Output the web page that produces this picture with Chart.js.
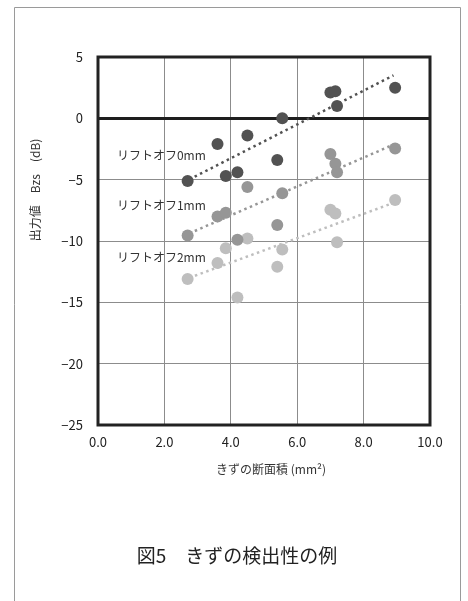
<!DOCTYPE html>
<html>
<head>
<meta charset="utf-8">
<script src="https://cdn.jsdelivr.net/npm/chart.js@4/dist/chart.umd.min.js"></script>
<style>
  html, body { margin: 0; padding: 0; background: #fff; }
  canvas { display: block; }
</style>
</head>
<body>
<canvas id="chart" width="468" height="601"></canvas>
<script>
// きずの断面積 (mm2)
const flawArea = [2.7, 3.6, 3.85, 4.2, 4.5, 5.4, 5.55, 7.0, 7.15, 7.2, 8.95];
// 出力値 Bzs (dB)
const liftOff0 = [-5.1, -2.1, -4.7, -4.4, -1.4, -3.4, 0.0, 2.1, 2.2, 1.0, 2.5];
const liftOff1 = [-9.55, -8.0, -7.7, -9.9, -5.6, -8.7, -6.1, -2.9, -3.7, -4.4, -2.45];
const liftOff2 = [-13.1, -11.8, -10.6, -14.6, -9.8, -12.1, -10.7, -7.45, -7.75, -10.1, -6.65];

// 近似直線 (端点)
const trendX = [2.75, 8.9];
const trend0 = [-4.98, 3.5];
const trend1 = [-9.38, -2.14];
const trend2 = [-13.0, -6.89];

const seriesLabels = ['リフトオフ0mm', 'リフトオフ1mm', 'リフトオフ2mm'];
const seriesColors = ['#525252', '#969696', '#bebebe'];
const labelPos = [[0.57, -3.0], [0.57, -7.1], [0.57, -11.3]];

const xTicks = [0, 2, 4, 6, 8, 10];
const yTicks = [5, 0, -5, -10, -15, -20, -25];

const JP = '"Noto Sans CJK JP", "Noto Sans", sans-serif';

function toPoints(xs, ys) {
    return xs.map((x, i) => ({ x: x, y: ys[i] }));
}

const pointSets = [liftOff0, liftOff1, liftOff2].map((ys, i) => ({
    label: seriesLabels[i],
    data: toPoints(flawArea, ys),
    backgroundColor: seriesColors[i],
    borderWidth: 0,
    pointRadius: 6,
    pointHoverRadius: 6,
    order: 1
}));

const trendSets = [trend0, trend1, trend2].map((ys, i) => ({
    label: seriesLabels[i] + ' 近似',
    data: toPoints(trendX, ys),
    showLine: true,
    borderColor: seriesColors[i],
    borderWidth: 2.5,
    borderDash: [2.5, 3.5],
    pointRadius: 0,
    order: 2
}));

// 枠・ラベル・タイトルを描く
const decorations = {
    id: 'decorations',
    afterDraw(chart) {
        const ctx = chart.ctx;
        const a = chart.chartArea;
        const xs = chart.scales.x;
        const ys = chart.scales.y;
        ctx.save();

        // 外枠
        ctx.strokeStyle = '#9a9a9a';
        ctx.lineWidth = 1;
        ctx.beginPath();
        ctx.moveTo(14.5, 610);
        ctx.lineTo(14.5, 7.5);
        ctx.lineTo(460.5, 7.5);
        ctx.lineTo(460.5, 610);
        ctx.stroke();

        // プロット枠
        ctx.strokeStyle = '#222';
        ctx.lineWidth = 3;
        ctx.strokeRect(a.left, a.top, a.right - a.left, a.bottom - a.top);

        // 系列ラベル
        ctx.fillStyle = '#333';
        ctx.font = '12px ' + JP;
        ctx.textAlign = 'left';
        ctx.textBaseline = 'middle';
        labelPos.forEach((p, i) => {
            ctx.fillText(seriesLabels[i], xs.getPixelForValue(p[0]), ys.getPixelForValue(p[1]));
        });

        // X軸タイトル
        ctx.fillStyle = '#333';
        ctx.font = '12px ' + JP;
        ctx.textAlign = 'center';
        ctx.fillText('きずの断面積 (mm²)', 271, 469);

        // Y軸タイトル
        ctx.save();
        ctx.translate(35, 190);
        ctx.rotate(-Math.PI / 2);
        ctx.fillText('出力値\u3000Bzs\u3000(dB)', 0, 0);
        ctx.restore();

        // 図キャプション
        ctx.fillStyle = '#222';
        ctx.font = '19px ' + JP;
        ctx.fillText('図5\u3000きずの検出性の例', 237, 556);

        ctx.restore();
    }
};

new Chart(document.getElementById('chart'), {
    type: 'scatter',
    data: { datasets: [...pointSets, ...trendSets] },
    options: {
        responsive: false,
        animation: false,
        layout: { padding: { top: 57, right: 38, left: 0, bottom: 0 } },
        plugins: {
            legend: { display: false },
            tooltip: { enabled: false }
        },
        scales: {
            x: {
                type: 'linear',
                min: 0,
                max: 10,
                afterFit(scale) { scale.height = 176; },
                afterBuildTicks(scale) { scale.ticks = xTicks.map(v => ({ value: v })); },
                grid: { color: '#8c8c8c', lineWidth: 1, drawTicks: false },
                border: { display: false },
                ticks: {
                    padding: 9,
                    color: '#222',
                    font: { family: JP, size: 13 },
                    callback: v => v.toFixed(1)
                }
            },
            y: {
                type: 'linear',
                min: -25,
                max: 5,
                afterFit(scale) { scale.width = 98; },
                afterBuildTicks(scale) { scale.ticks = yTicks.map(v => ({ value: v })); },
                grid: {
                    drawTicks: false,
                    color: c => c.tick && c.tick.value === 0 ? '#1e1e1e' : '#8c8c8c',
                    lineWidth: c => c.tick && c.tick.value === 0 ? 3 : 1
                },
                border: { display: false },
                ticks: {
                    padding: 15,
                    color: '#222',
                    font: { family: JP, size: 13 },
                    callback: v => String(v).replace('-', '\u2212')
                }
            }
        }
    },
    plugins: [decorations]
});
</script>
</body>
</html>
